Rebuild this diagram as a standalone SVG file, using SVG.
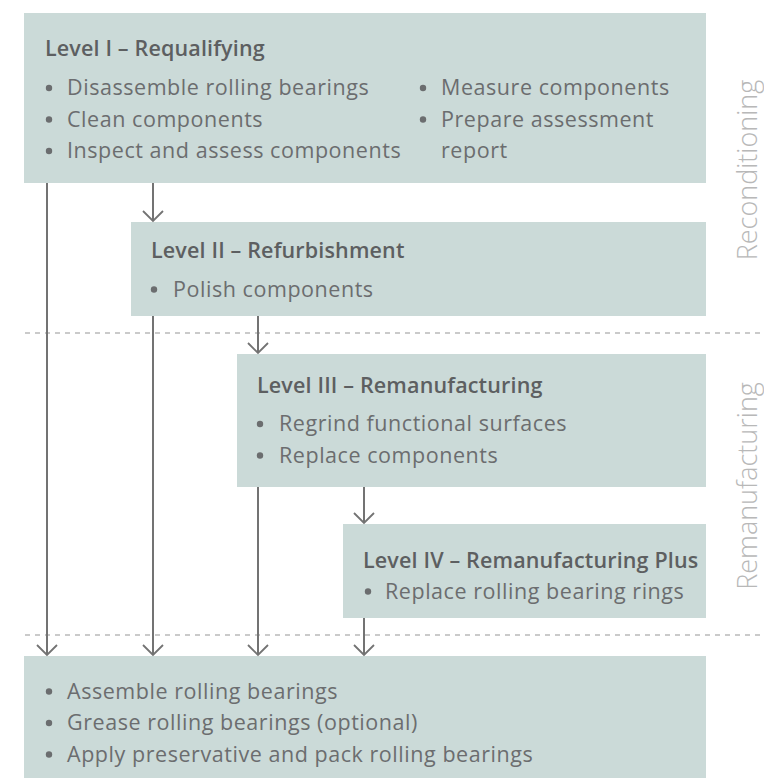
<svg xmlns="http://www.w3.org/2000/svg" width="764" height="783" viewBox="0 0 764 783">
<defs>
<style>
.box{fill:#cbdad8}
.t{font-family:"Open Sans","Noto Sans",sans-serif;font-size:21.5px;fill:#6b6d6f;letter-spacing:0.55px}
.h{font-family:"Open Sans","Noto Sans",sans-serif;font-size:21.5px;font-weight:600;fill:#5d5f61;letter-spacing:0.15px}
.b{fill:#6b6d6f}
.side{font-family:"Open Sans","Noto Sans",sans-serif;font-size:27px;font-weight:300;fill:#b8b8b8;text-anchor:middle}
.sep{stroke:#b9b9b9;stroke-width:1.3;stroke-dasharray:5 5;fill:none}
.conn{stroke:#737373;stroke-width:2;fill:none}
</style>
<marker id="arr" markerUnits="userSpaceOnUse" viewBox="-12 -12 14 24" refX="0" refY="0" markerWidth="14" markerHeight="24" orient="auto" overflow="visible">
<path d="M-10,-10 L0,0 L-10,10" fill="none" stroke="#737373" stroke-width="1.8"/>
</marker>
</defs>
<rect width="764" height="783" fill="#ffffff"/>

<g id="separators">
<line class="sep" x1="25" y1="333" x2="764" y2="333"/>
<line class="sep" x1="25" y1="635" x2="764" y2="635"/>
</g>

<g id="level1">
<rect class="box" x="24" y="13" width="682" height="170"/>
<text class="h" x="45" y="56">Level I – Requalifying</text>
<circle class="b" cx="49" cy="88" r="3.2"/>
<text class="t" x="67" y="95">Disassemble rolling bearings</text>
<circle class="b" cx="49" cy="119.5" r="3.2"/>
<text class="t" x="67" y="126.5">Clean components</text>
<circle class="b" cx="49" cy="151" r="3.2"/>
<text class="t" x="67" y="158">Inspect and assess components</text>
<circle class="b" cx="423" cy="88" r="3.2"/>
<text class="t" x="441" y="95">Measure components</text>
<circle class="b" cx="423" cy="119.5" r="3.2"/>
<text class="t" x="441" y="126.5">Prepare assessment</text>
<text class="t" x="441" y="158">report</text>
</g>

<g id="level2">
<rect class="box" x="131" y="222" width="575" height="94"/>
<text class="h" x="151" y="258">Level II – Refurbishment</text>
<circle class="b" cx="154" cy="289.5" r="3.2"/>
<text class="t" x="173" y="296.5">Polish components</text>
</g>

<g id="level3">
<rect class="box" x="237" y="354" width="469" height="133"/>
<text class="h" x="257" y="393">Level III – Remanufacturing</text>
<circle class="b" cx="260" cy="424" r="3.2"/>
<text class="t" x="279" y="431">Regrind functional surfaces</text>
<circle class="b" cx="260" cy="455.5" r="3.2"/>
<text class="t" x="279" y="462.5">Replace components</text>
</g>

<g id="level4">
<rect class="box" x="343" y="524" width="363" height="94"/>
<text class="h" x="363" y="568">Level IV – Remanufacturing Plus</text>
<circle class="b" cx="368" cy="591.5" r="3.2"/>
<text class="t" x="385" y="598.5">Replace rolling bearing rings</text>
</g>

<g id="final">
<rect class="box" x="24" y="656" width="682" height="122"/>
<circle class="b" cx="49" cy="691.5" r="3.2"/>
<text class="t" x="67" y="698.5">Assemble rolling bearings</text>
<circle class="b" cx="49" cy="723" r="3.2"/>
<text class="t" x="67" y="730">Grease rolling bearings (optional)</text>
<circle class="b" cx="49" cy="754.5" r="3.2"/>
<text class="t" x="67" y="761.5">Apply preservative and pack rolling bearings</text>
</g>

<g id="labels">
<text class="side" transform="translate(757,170) rotate(-90)">Reconditioning</text>
<text class="side" transform="translate(757,486) rotate(-90)">Remanufacturing</text>
</g>

<g id="connectors">
<line class="conn" x1="47" y1="183" x2="47" y2="655" marker-end="url(#arr)"/>
<line class="conn" x1="153" y1="183" x2="153" y2="221" marker-end="url(#arr)"/>
<line class="conn" x1="153" y1="316" x2="153" y2="655" marker-end="url(#arr)"/>
<line class="conn" x1="258" y1="316" x2="258" y2="353" marker-end="url(#arr)"/>
<line class="conn" x1="258" y1="487" x2="258" y2="655" marker-end="url(#arr)"/>
<line class="conn" x1="364" y1="487" x2="364" y2="523" marker-end="url(#arr)"/>
<line class="conn" x1="364" y1="618" x2="364" y2="655" marker-end="url(#arr)"/>
</g>
</svg>
